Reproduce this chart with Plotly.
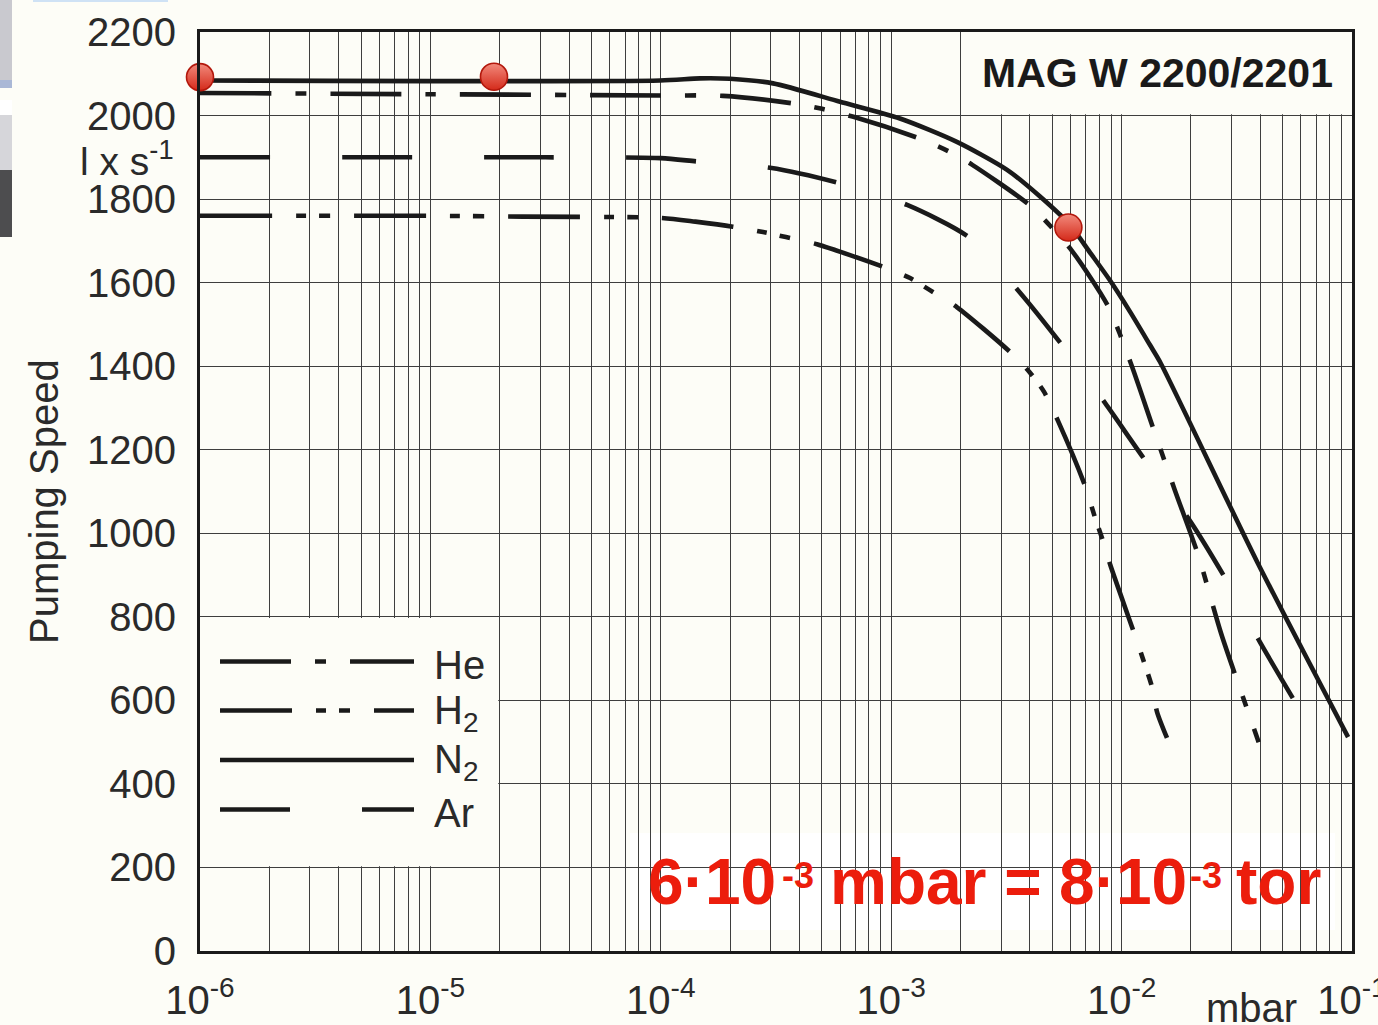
import plotly.graph_objects as go

# ---- pumping speed curves (pressure in mbar, speed in l/s) ----
he_logp = [-6.0, -5.0, -4.0, -3.73, -3.426, -3.30, -3.164, -2.882, -2.75, -2.648, -2.40, -2.322,
           -2.218, -2.06, -1.962, -1.862, -1.77, -1.666, -1.568, -1.457, -1.405]
he_speed = [2054, 2051, 2048, 2047, 2029, 2016, 1997, 1946, 1914, 1882, 1786, 1743,
            1678, 1545, 1410, 1250, 1105, 945, 760, 582, 500]

h2_logp = [-6.0, -5.0, -4.6, -4.0, -3.85, -3.687, -3.556, -3.457, -3.322, -3.036, -2.918, -2.832,
           -2.714, -2.484, -2.40, -2.337, -2.276, -2.159, -2.115, -2.081, -2.049, -1.95,
           -1.898, -1.868, -1.846, -1.803]
h2_speed = [1760, 1760, 1758, 1755, 1746, 1734, 1721, 1709, 1692, 1638, 1611, 1582,
            1541, 1434, 1386, 1339, 1269, 1114, 1037, 982, 924, 768,
            684, 632, 572, 510]

n2_logp = [-6.0, -4.003, -3.83, -3.70, -3.513, -3.222, -2.962, -2.715, -2.497, -2.354, -2.224,
           -2.137, -2.05, -1.963, -1.876, -1.833, -1.412, -1.017]
n2_speed = [2084, 2084, 2089, 2088, 2077, 2033, 1993, 1937, 1870, 1806, 1738,
            1672, 1605, 1530, 1450, 1410, 932, 512]

ar_logp = [-6.0, -4.5, -4.0, -3.84, -3.526, -3.231, -2.931, -2.658, -2.45, -2.259, -2.072,
           -1.898, -1.712, -1.551, -1.40, -1.247]
ar_speed = [1900, 1900, 1898, 1890, 1875, 1839, 1786, 1707, 1582, 1451, 1312,
            1175, 1037, 893, 740, 596]

# highlighted operating points
mark_logp = [-6.0, -4.724, -2.231]
mark_speed = [2092, 2093, 1732]

gas_names = ["He", "H<sub>2</sub>", "N<sub>2</sub>", "Ar"]
y_ticks = list(range(0, 2201, 200))
x_decades = [-6, -5, -4, -3, -2, -1]
x_ticktext = ["10<sup>-6</sup>", "10<sup>-5</sup>", "10<sup>-4</sup>",
              "10<sup>-3</sup>", "10<sup>-2</sup>", "10<sup>-1</sup>"]

# pressure note, split so the exponents sit at cap height
note_parts = [("6·10", 646, 64, 882), ("-3", 780, 36, 875), ("mbar =", 828, 64, 882),
              ("8·10", 1057, 64, 882), ("-3", 1188, 36, 875), ("tor", 1234, 64, 882)]

# ---- styling ----
W, H = 1378, 1025
L, R, T, B = 200, 1352, 32, 951
BG = "#fdfdf7"
INK = "#1a1a1a"
TXT = "#2a2a2a"
GRID = "#3e3e3e"
RED = "#ec1d0c"
FONT = "Liberation Sans"

dash_he = "71px,24px,11px,24px"
dash_h2 = "72px,24px,10px,13px,11px,24px"
dash_ar = "70px,72px"


def px(x):
    return (x - L) / (R - L)


def py(y):
    return (B - y) / (B - T)


fig = go.Figure()

curves = [
    (he_logp, he_speed, dash_he, "He"),
    (h2_logp, h2_speed, dash_h2, "H2"),
    (n2_logp, n2_speed, "solid", "N2"),
    (ar_logp, ar_speed, dash_ar, "Ar"),
]
for lp, s, dash, name in curves:
    fig.add_trace(go.Scatter(
        x=[10 ** v for v in lp], y=s, mode="lines", name=name,
        line=dict(color=INK, width=4.6, dash=dash, shape="spline", smoothing=0.7),
        showlegend=False, hoverinfo="skip",
    ))

fig.add_trace(go.Scatter(
    x=[10 ** v for v in mark_logp], y=mark_speed, mode="markers",
    marker=dict(size=27, color="#f28a7c", line=dict(color="#b3180c", width=1.6),
                gradient=dict(type="vertical", color="#d42a1a")),
    cliponaxis=False, showlegend=False, hoverinfo="skip",
))

# minor grid positions: 2..9 within each decade
minor_vals = [m * 10 ** d for d in range(-6, -1) for m in range(2, 10)]

fig.update_xaxes(
    type="log", range=[-6, -1], automargin=False,
    tickmode="array", tickvals=[10 ** d for d in x_decades], ticktext=x_ticktext,
    ticklabeloverflow="allow",
    showgrid=True, gridcolor=GRID, gridwidth=1.2,
    minor=dict(tickmode="array", tickvals=minor_vals, showgrid=True,
               gridcolor=GRID, gridwidth=1.2, ticks=""),
    showline=True, linecolor=INK, linewidth=3, mirror=True,
    ticks="", ticklabelstandoff=12, zeroline=False,
    tickfont=dict(family=FONT, size=40, color=TXT),
)
fig.update_yaxes(
    range=[0, 2200], tickmode="array", tickvals=y_ticks, automargin=False,
    showgrid=True, gridcolor=GRID, gridwidth=1.2,
    showline=True, linecolor=INK, linewidth=3, mirror=True,
    ticks="", ticklabelstandoff=13, zeroline=False,
    tickfont=dict(family=FONT, size=40, color=TXT),
)

shapes = []
# blank panels that hide the grid: legend, model caption, pressure note
shapes.append(dict(type="rect", xref="x", yref="y", x0=1e-6, x1=1.97e-5, y0=203, y1=797,
                   fillcolor=BG, line=dict(width=0), layer="between"))
shapes.append(dict(type="rect", xref="x", yref="y", x0=2.03e-3, x1=1e-1, y0=2003, y1=2200,
                   fillcolor=BG, line=dict(width=0), layer="between"))
shapes.append(dict(type="rect", xref="paper", yref="paper", x0=px(630), x1=px(1335),
                   y0=py(930), y1=py(833), fillcolor="#ffffff", line=dict(width=0),
                   layer="between"))

# legend samples
leg_rows = [(661.5, dash_he), (710.5, dash_h2), (760, "solid"), (809.5, dash_ar)]
for yy, dash in leg_rows:
    shapes.append(dict(type="line", xref="paper", yref="paper", x0=px(220), x1=px(414),
                       y0=py(yy), y1=py(yy), line=dict(color=INK, width=4.6, dash=dash)))

# window-edge fragments on the far left
frag = [(0, 80, "#c9c9cf"), (80, 88, "#aab8d6"), (100, 115, "#ffffff"),
        (115, 170, "#d6d6da"), (170, 237, "#4d4d4f")]
for y0, y1, col in frag:
    shapes.append(dict(type="rect", xref="paper", yref="paper", x0=px(0), x1=px(12),
                       y0=py(y1), y1=py(y0), fillcolor=col, line=dict(width=0),
                       layer="above"))
shapes.append(dict(type="rect", xref="paper", yref="paper", x0=px(33), x1=px(168),
                   y0=py(2), y1=py(0), fillcolor="#cfe2f5", line=dict(width=0)))

annotations = []
legend_y = [665, 713, 762, 813]
for name, yy in zip(gas_names, legend_y):
    annotations.append(dict(text=name, xref="paper", yref="paper", x=px(432), y=py(yy),
                            xanchor="left", yanchor="middle", showarrow=False,
                            font=dict(family=FONT, size=40, color=TXT)))

for txt, xl, size, yc in note_parts:
    annotations.append(dict(text=txt, xref="paper", yref="paper", x=px(xl), y=py(yc),
                            xanchor="left", yanchor="middle", showarrow=False,
                            font=dict(family=FONT, size=size, color=RED, weight="bold")))

annotations += [
    dict(text="MAG W 2200/2201", xref="paper", yref="paper", x=px(1157), y=py(73),
         xanchor="center", yanchor="middle", showarrow=False,
         font=dict(family=FONT, size=41, color=INK, weight="bold")),
    dict(text="l x s<sup>-1</sup>", xref="paper", yref="paper", x=px(176), y=py(158),
         xanchor="right", yanchor="middle", showarrow=False,
         font=dict(family=FONT, size=39, color=TXT)),
    dict(text="Pumping Speed", xref="paper", yref="paper", x=px(44), y=py(502),
         xanchor="center", yanchor="middle", textangle=-90, showarrow=False,
         font=dict(family=FONT, size=40, color=TXT)),
    dict(text="mbar", xref="paper", yref="paper", x=px(1251), y=py(1008),
         xanchor="center", yanchor="middle", showarrow=False,
         font=dict(family=FONT, size=40, color=TXT)),
]

fig.update_layout(
    width=W, height=H,
    margin=dict(l=L, r=W - R, t=T, b=H - B, pad=0),
    paper_bgcolor=BG, plot_bgcolor=BG,
    shapes=shapes, annotations=annotations, showlegend=False,
)

fig.write_html("out.html")
